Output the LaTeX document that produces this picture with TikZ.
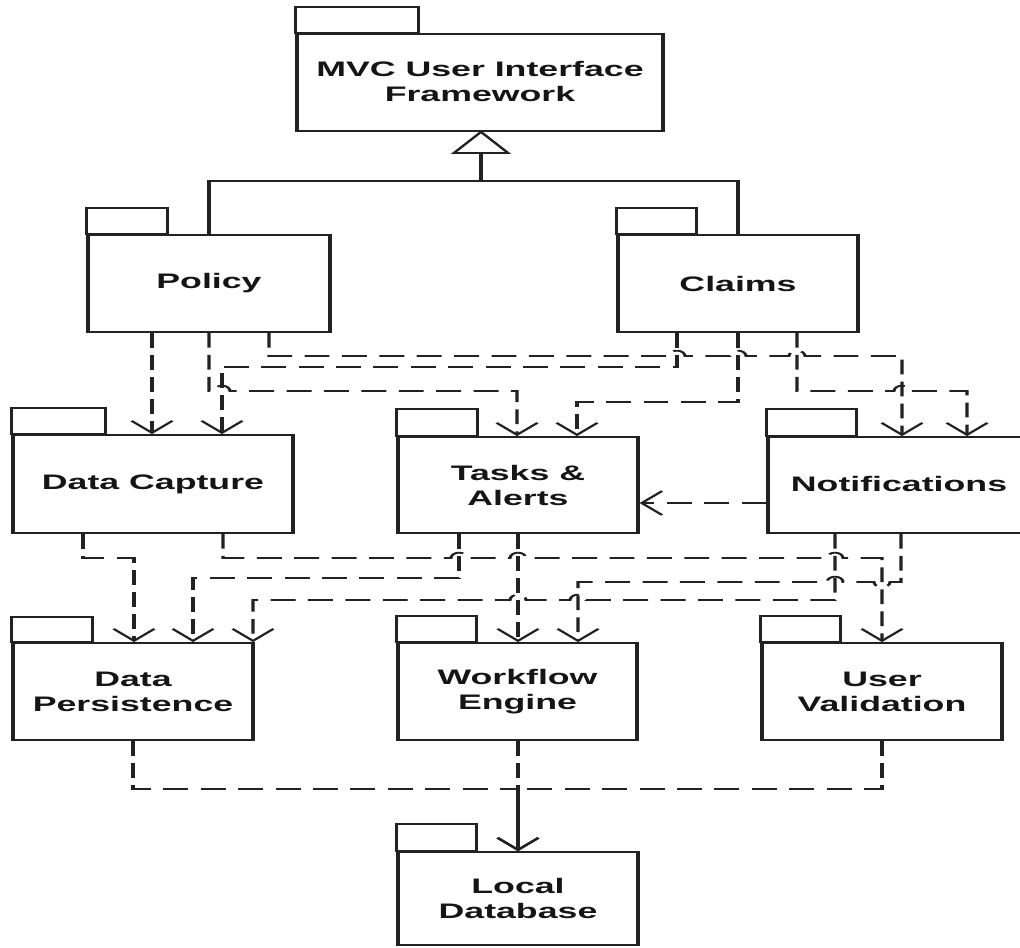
\documentclass[tikz,border=0pt]{standalone}
\usepackage{fontspec}
\setmainfont{Liberation Sans}
\usetikzlibrary{arrows.meta,fit}
\definecolor{ln}{HTML}{222222}
\definecolor{tx}{HTML}{151515}
\begin{document}
\begin{tikzpicture}
\useasboundingbox (0,0) rectangle (765pt,-710.25pt);
\begin{scope}[transform canvas={xscale=1.7}, x=0.441176pt, y=-0.75pt,
  pkg/.style={draw=ln, line width=1.35pt, inner sep=0pt},
  lbl/.style={inner sep=0pt, align=center, text=tx,
    font=\fontsize{15.75pt}{18.75pt}\selectfont\bfseries},
  tabbox/.style={draw=ln, line width=1.35pt},
  gen/.style={draw=ln, line width=1.35pt},
  dep/.style={draw=ln, line width=1.35pt, dash pattern=on 11pt off 5.5pt,
    -{Straight Barb[length=9pt,width=18pt]}}]

% packages
\node[pkg, fit={(297,34) (663,131)}] (mvc) {};
\node[pkg, fit={(88,235) (330,332)}] (policy) {};
\node[pkg, fit={(618,235) (858,332)}] (claims) {};
\node[pkg, fit={(13,435) (293,533)}] (dc) {};
\node[pkg, fit={(398,437) (638,533)}] (tasks) {};
\node[pkg, fit={(768,437) (1030,533)}] (notif) {};
\node[pkg, fit={(13,643) (253,740)}] (dp) {};
\node[pkg, fit={(398,643) (637,740)}] (we) {};
\node[pkg, fit={(762,643) (1002,740)}] (uv) {};
\node[pkg, fit={(398,852) (638,945)}] (ld) {};

% labels
\node[lbl] (mvc-t) at ([yshift=0.5pt]mvc.center) {MVC User Interface\\Framework};
\node[lbl] (policy-t) at (policy.center) {Policy};
\node[lbl] (claims-t) at (claims.center) {Claims};
\node[lbl] (dc-t) at (dc.center) {Data Capture};
\node[lbl] (tasks-t) at (tasks.center) {Tasks \&\\Alerts};
\node[lbl] (notif-t) at ([yshift=0.5pt]notif.center) {Notifications};
\node[lbl] (dp-t) at (dp.center) {Data\\Persistence};
\node[lbl] (we-t) at (we.center) {Workflow\\Engine};
\node[lbl] (uv-t) at (uv.center) {User\\Validation};
\node[lbl] (ld-t) at (ld.center) {Local\\Database};

% tabs
\draw[tabbox] (mvc.north west) rectangle ++(123,-26);
\draw[tabbox] (policy.north west) rectangle ++(81,-26);
\draw[tabbox] (claims.north west) rectangle ++(80,-26);
\draw[tabbox] (dc.north west) rectangle ++(94,-26);
\draw[tabbox] (tasks.north west) rectangle ++(81,-27);
\draw[tabbox] (notif.north west) rectangle ++(90,-27);
\draw[tabbox] (dp.north west) rectangle ++(81,-25);
\draw[tabbox] (we.north west) rectangle ++(80,-26);
\draw[tabbox] (uv.north west) rectangle ++(80,-26);
\draw[tabbox] (ld.north west) rectangle ++(80,-27);

% generalization
\coordinate (g) at (481,181);
\draw[gen] (policy.north) -- (policy.north |- g) -- (claims.north |- g) -- (claims.north);
\draw[gen] (g) -- ++(0,-28);
\draw[gen, fill=white] (mvc.south -| g) -- ++(-27,21) -- ++(54,0) -- cycle;

% Policy / Claims dependencies
\draw[dep] (152,0 |- policy.south) -- (152,0 |- dc.north);
\draw[dep] (209,0 |- policy.south) -- (209,391) -- (214,391)
  arc[start angle=180,end angle=0,x radius=3.53pt,y radius=4pt]
  -- (517,391) -- (517,0 |- tasks.north);
\draw[dep] (269,0 |- policy.south) -- (269,356) -- (669,356)
  arc[start angle=180,end angle=0,x radius=3.53pt,y radius=4pt]
  -- (730,356)
  arc[start angle=180,end angle=0,x radius=3.53pt,y radius=4pt]
  -- (789,356)
  arc[start angle=180,end angle=0,x radius=3.53pt,y radius=4pt]
  -- (902,356) -- (902,0 |- notif.north);
\draw[dep] (677,0 |- claims.south) -- (677,367) -- (222,367) -- (222,0 |- dc.north);
\draw[dep] (738,0 |- claims.south) -- (738,402) -- (577,402) -- (577,0 |- tasks.north);
\draw[dep] (797,0 |- claims.south) -- (797,391) -- (894,391)
  arc[start angle=180,end angle=0,x radius=3.53pt,y radius=4pt]
  -- (967,391) -- (967,0 |- notif.north);
\draw[dep] (notif.west |- 0,503) -- (tasks.east |- 0,503);

% second row dependencies
\draw[dep] (83,0 |- dc.south) -- (83,558) -- (134,558) -- (134,0 |- dp.north);
\draw[dep] (223,0 |- dc.south) -- (223,558) -- (451,558)
  arc[start angle=180,end angle=0,x radius=3.53pt,y radius=4pt]
  -- (510,558)
  arc[start angle=180,end angle=0,x radius=3.53pt,y radius=4pt]
  -- (827,558)
  arc[start angle=180,end angle=0,x radius=3.53pt,y radius=4pt]
  -- (882,558) -- (882,0 |- uv.north);
\draw[dep] (459,0 |- tasks.south) -- (459,578) -- (193,578) -- (193,0 |- dp.north);
\draw[dep] (518,0 |- tasks.south) -- (518,0 |- we.north);
\draw[dep] (901,0 |- notif.south) -- (901,582) -- (890,582)
  arc[start angle=0,end angle=-180,x radius=3.53pt,y radius=4pt]
  -- (843,582)
  arc[start angle=0,end angle=180,x radius=3.53pt,y radius=4pt]
  -- (578,582) -- (578,0 |- we.north);
\draw[dep] (835,0 |- notif.south) -- (835,600) -- (586,600)
  arc[start angle=0,end angle=180,x radius=3.53pt,y radius=4pt]
  -- (526,600)
  arc[start angle=0,end angle=180,x radius=3.53pt,y radius=4pt]
  -- (253,600) -- (253,0 |- dp.north);

% to local database
\draw[dep] (133,0 |- dp.south) -- (133,789) -- (518,789) -- (518,0 |- ld.north);
\draw[dep] (882,0 |- uv.south) -- (882,789) -- (518,789) -- (518,0 |- ld.north);
\draw[dep] (518,0 |- we.south) -- (518,0 |- ld.north);
\end{scope}
\end{tikzpicture}
\end{document}
